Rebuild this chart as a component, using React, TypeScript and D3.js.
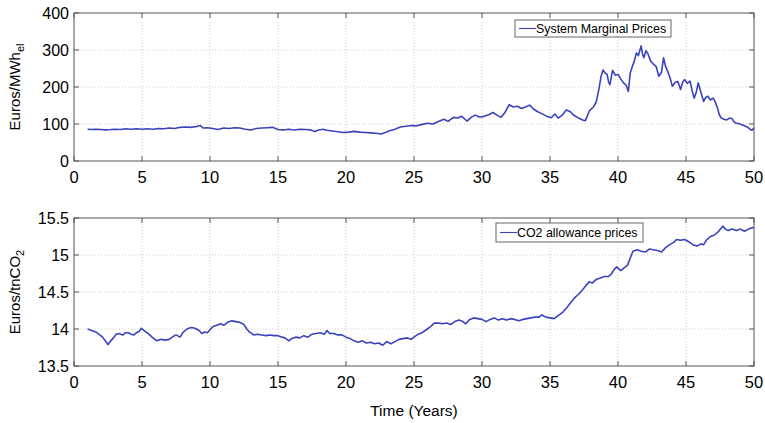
import React, { useRef, useEffect } from "react";
import * as d3 from "d3";

// system marginal prices (Euros/MWh_el)
const smpYears = [
  1.0, 1.3, 1.6, 2.0, 2.3, 2.7, 3.0, 3.4, 3.8, 4.2, 4.6, 5.0, 5.4, 5.8, 6.2, 6.6, 7.0, 7.4, 7.8, 8.2,
  8.6, 9.0, 9.3, 9.5, 9.8, 10.2, 10.6, 11.0, 11.4, 11.8, 12.2, 12.6, 13.0, 13.4, 13.8, 14.2, 14.6, 15.0,
  15.4, 15.8, 16.2, 16.6, 17.0, 17.4, 17.7, 18.0, 18.3, 18.6, 19.0, 19.4, 19.8, 20.2, 20.6, 21.0, 21.4,
  21.8, 22.2, 22.6, 22.9, 23.2, 23.6, 24.0, 24.4, 24.8, 25.2, 25.6, 26.0, 26.4, 26.8, 27.2, 27.5, 27.9,
  28.2, 28.5, 28.9, 29.2, 29.5, 29.8, 30.1, 30.5, 30.8, 31.1, 31.4, 31.7, 32.0, 32.3, 32.6, 32.9, 33.2,
  33.5, 33.8, 34.1, 34.4, 34.8, 35.1, 35.35, 35.6, 35.9, 36.2, 36.5, 36.7, 37.1, 37.4, 37.6, 37.9, 38.2,
  38.4, 38.6, 38.75, 38.9, 39.05, 39.2, 39.3, 39.4, 39.6, 39.8, 40.0, 40.2, 40.4, 40.6, 40.76, 40.9,
  41.05, 41.2, 41.35, 41.5, 41.7, 41.8, 41.9, 42.05, 42.2, 42.4, 42.6, 42.8, 43.0, 43.2, 43.35, 43.5,
  43.7, 43.85, 44.0, 44.2, 44.4, 44.6, 44.75, 44.9, 45.1, 45.3, 45.45, 45.6, 45.75, 45.9, 46.1, 46.3,
  46.45, 46.6, 46.8, 47.0, 47.15, 47.3, 47.45, 47.6, 47.8, 48.0, 48.2, 48.4, 48.55, 48.7, 48.9, 49.1,
  49.3, 49.5, 49.7, 49.85, 50.0,
];
const smpValues = [
  86, 85, 86, 85, 84, 85, 86, 85, 87, 86, 87, 86, 87, 86, 88, 87, 89, 88, 91, 92,
  91, 93, 96, 89, 90, 88, 85, 89, 88, 90, 89, 86, 84, 88, 89, 90, 91, 85,
  84, 86, 84, 86, 85, 84, 80, 84, 86, 83, 81, 79, 77, 78, 80, 78, 77,
  76, 75, 73, 77, 82, 86, 92, 94, 96, 95, 99, 102, 100, 107, 113, 107, 118,
  116, 121, 108, 118, 124, 119, 120, 125, 131, 124, 118, 132, 152, 146, 148, 142, 146,
  151, 140, 133, 128, 120, 117, 127, 116, 124, 138, 133, 125, 116, 111, 109, 136, 146,
  160, 195, 228, 246, 238, 234, 215, 206, 245, 232, 234, 222, 211, 205, 188, 238,
  255, 270, 292, 285, 311, 290, 279, 298, 290, 270, 262, 256, 229, 240, 279, 255,
  238, 222, 202, 212, 215, 193, 213, 220, 210, 216, 190, 170, 185, 211, 185, 161,
  172, 175, 165, 170, 160, 145, 125, 116, 113, 111, 116, 114, 105, 102, 101, 98,
  95, 92, 86, 83, 90,
];

// CO2 allowance prices (Euros/tnCO2)
const co2Years = [
  1.0, 1.3, 1.6, 1.9, 2.1, 2.3, 2.5, 2.7, 2.9, 3.1, 3.3, 3.6, 3.8, 4.0, 4.2, 4.4, 4.6, 4.8, 4.95, 5.2,
  5.5, 5.8, 6.1, 6.4, 6.7, 7.0, 7.3, 7.5, 7.8, 8.0, 8.3, 8.6, 8.9, 9.2, 9.4, 9.6, 9.8, 10.0, 10.2,
  10.5, 10.8, 11.0, 11.3, 11.6, 11.9, 12.2, 12.5, 12.7, 12.9, 13.2, 13.5, 13.8, 14.1, 14.4, 14.7, 15.0,
  15.3, 15.5, 15.8, 16.0, 16.3, 16.6, 16.9, 17.2, 17.5, 17.8, 18.1, 18.4, 18.6, 18.8, 19.1, 19.4, 19.7,
  20.0, 20.3, 20.6, 20.9, 21.2, 21.5, 21.8, 22.1, 22.4, 22.7, 23.0, 23.3, 23.6, 23.9, 24.2, 24.5, 24.8,
  25.0, 25.3, 25.6, 25.9, 26.2, 26.5, 26.8, 27.1, 27.4, 27.7, 28.0, 28.3, 28.6, 28.8, 29.1, 29.4, 29.7,
  30.0, 30.3, 30.6, 30.9, 31.2, 31.5, 31.8, 32.1, 32.4, 32.7, 33.0, 33.3, 33.6, 33.9, 34.2, 34.4, 34.7,
  35.0, 35.3, 35.6, 35.9, 36.2, 36.5, 36.8, 37.1, 37.4, 37.7, 37.9, 38.1, 38.4, 38.7, 39.0, 39.3, 39.5,
  39.7, 39.9, 40.2, 40.4, 40.7, 40.9, 41.1, 41.4, 41.7, 42.0, 42.3, 42.6, 42.9, 43.2, 43.5, 43.8, 44.1,
  44.3, 44.6, 44.9, 45.2, 45.5, 45.8, 46.1, 46.3, 46.5, 46.8, 47.1, 47.4, 47.7, 47.9, 48.1, 48.4, 48.7,
  49.0, 49.3, 49.6, 49.9, 50.0,
];
const co2Values = [
  14.0, 13.98, 13.96, 13.92, 13.89, 13.84, 13.79, 13.84, 13.88, 13.93, 13.94, 13.92, 13.95, 13.95, 13.93, 13.92, 13.95, 13.97, 14.01, 13.97,
  13.93, 13.88, 13.84, 13.86, 13.85, 13.86, 13.9, 13.92, 13.89, 13.95, 14.0, 14.02, 14.01, 13.98, 13.94, 13.96, 13.95, 13.99, 14.03,
  14.05, 14.07, 14.05, 14.09, 14.11, 14.1, 14.09, 14.06, 14.0, 13.96, 13.92, 13.93, 13.92, 13.91, 13.92, 13.91, 13.91,
  13.89, 13.88, 13.84, 13.87, 13.89, 13.88, 13.91, 13.89, 13.93, 13.94, 13.95, 13.93, 13.98, 13.94, 13.94, 13.92, 13.92,
  13.89, 13.87, 13.84, 13.82, 13.84, 13.81, 13.82, 13.8, 13.81, 13.78, 13.83, 13.8, 13.83, 13.86, 13.87, 13.88, 13.86,
  13.89, 13.93, 13.95, 13.99, 14.03, 14.08, 14.08, 14.07, 14.08, 14.06, 14.1, 14.12, 14.1, 14.07, 14.13, 14.15, 14.14,
  14.13, 14.1, 14.13, 14.15, 14.12, 14.14, 14.12, 14.14, 14.13, 14.11, 14.13, 14.14, 14.15, 14.16, 14.16, 14.19, 14.16,
  14.15, 14.14, 14.18, 14.22, 14.28, 14.35, 14.42, 14.47, 14.53, 14.6, 14.64, 14.62, 14.67, 14.69, 14.71, 14.71, 14.74,
  14.8, 14.84, 14.79, 14.82, 14.86, 14.96, 15.05, 15.07, 15.05, 15.04, 15.08, 15.07, 15.06, 15.04, 15.1, 15.14, 15.17,
  15.21, 15.2, 15.21, 15.18, 15.14, 15.12, 15.15, 15.14, 15.2, 15.25, 15.27, 15.32, 15.39, 15.35, 15.33, 15.35, 15.33,
  15.35, 15.32, 15.35, 15.37, 15.36,
];

const xTicks = [0, 5, 10, 15, 20, 25, 30, 35, 40, 45, 50];
const smpTicks = [0, 100, 200, 300, 400];
const co2Ticks = [13.5, 14, 14.5, 15, 15.5];

const LINE = "#3a42bd";
const FONT = "'Liberation Sans', Arial, sans-serif";

const App = () => {
  const ref = useRef(null);

  useEffect(() => {
    if (!ref.current) return;
    const svg = d3.select(ref.current);
    svg.selectAll("*").remove();

    const left = 74;
    const right = 754;
    const x = d3.scaleLinear().domain([0, 50]).range([left, right]);

    function panel(top, bottom, domain, ticks, xs, ys, legendLabel, legendBox, yLabel, yFmt) {
      const y = d3.scaleLinear().domain(domain).range([bottom, top]);
      const g = svg.append("g");

      g.append("rect")
        .attr("x", left).attr("y", top)
        .attr("width", right - left).attr("height", bottom - top)
        .attr("fill", "white");

      // dotted grid
      g.selectAll(".vgrid").data(xTicks.slice(1, -1)).join("line")
        .attr("x1", (d) => x(d)).attr("x2", (d) => x(d))
        .attr("y1", top).attr("y2", bottom)
        .attr("stroke", "#c4c4c4").attr("stroke-width", 0.8)
        .attr("stroke-dasharray", "1,2");
      g.selectAll(".hgrid").data(ticks.slice(1, -1)).join("line")
        .attr("x1", left).attr("x2", right)
        .attr("y1", (d) => y(d)).attr("y2", (d) => y(d))
        .attr("stroke", "#c4c4c4").attr("stroke-width", 0.8)
        .attr("stroke-dasharray", "1,2");

      // series
      const pts = xs.map((d, i) => [d, ys[i]]);
      const line = d3.line().x((d) => x(d[0])).y((d) => y(d[1]));
      g.append("path")
        .attr("d", line(pts))
        .attr("fill", "none")
        .attr("stroke", LINE)
        .attr("stroke-width", 1.6)
        .attr("stroke-linejoin", "round");

      // box
      g.append("rect")
        .attr("x", left).attr("y", top)
        .attr("width", right - left).attr("height", bottom - top)
        .attr("fill", "none").attr("stroke", "#555").attr("stroke-width", 1);

      // inward ticks on all sides
      const tl = 5;
      xTicks.forEach((t) => {
        g.append("line").attr("x1", x(t)).attr("x2", x(t)).attr("y1", bottom).attr("y2", bottom - tl)
          .attr("stroke", "#555");
        g.append("line").attr("x1", x(t)).attr("x2", x(t)).attr("y1", top).attr("y2", top + tl)
          .attr("stroke", "#555");
      });
      ticks.forEach((t) => {
        g.append("line").attr("x1", left).attr("x2", left + tl).attr("y1", y(t)).attr("y2", y(t))
          .attr("stroke", "#555");
        g.append("line").attr("x1", right).attr("x2", right - tl).attr("y1", y(t)).attr("y2", y(t))
          .attr("stroke", "#555");
      });

      // tick labels
      g.selectAll(".xl").data(xTicks).join("text")
        .attr("x", (d) => x(d)).attr("y", bottom + 22)
        .attr("text-anchor", "middle")
        .attr("font-family", FONT).attr("font-size", 16.5).attr("fill", "#000")
        .text((d) => d);
      g.selectAll(".yl").data(ticks).join("text")
        .attr("x", left - 5).attr("y", (d) => y(d) + 6)
        .attr("text-anchor", "end")
        .attr("font-family", FONT).attr("font-size", 16).attr("fill", "#000")
        .text(yFmt);

      // y label
      const lab = g.append("text")
        .attr("transform", `translate(${yLabel.x},${(top + bottom) / 2}) rotate(-90)`)
        .attr("text-anchor", "middle")
        .attr("font-family", FONT).attr("font-size", 15).attr("fill", "#000");
      lab.append("tspan").text(yLabel.main);
      lab.append("tspan").attr("font-size", 11).attr("dy", 4).text(yLabel.sub);

      // legend
      g.append("rect")
        .attr("x", legendBox.x).attr("y", legendBox.y)
        .attr("width", legendBox.w).attr("height", legendBox.h)
        .attr("fill", "white").attr("stroke", "#666").attr("stroke-width", 1);
      const ly = legendBox.y + legendBox.h / 2;
      g.append("line")
        .attr("x1", legendBox.x + 4).attr("x2", legendBox.x + 21)
        .attr("y1", ly).attr("y2", ly)
        .attr("stroke", LINE).attr("stroke-width", 1.1);
      g.append("text")
        .attr("x", legendBox.x + 21).attr("y", ly + 4.5)
        .attr("font-family", FONT).attr("font-size", 12.4).attr("fill", "#000")
        .text(legendLabel);
    }

    panel(13, 161, [0, 400], smpTicks, smpYears, smpValues, "System Marginal Prices",
      { x: 515, y: 20, w: 156, h: 17 }, { x: 20, main: "Euros/MWh", sub: "el" }, (d) => d);
    panel(218, 366, [13.5, 15.5], co2Ticks, co2Years, co2Values, "CO2 allowance prices",
      { x: 496, y: 223, w: 147, h: 19 }, { x: 20, main: "Euros/tnCO", sub: "2" }, (d) => d);

    svg.append("text")
      .attr("x", 414).attr("y", 416)
      .attr("text-anchor", "middle")
      .attr("font-family", FONT).attr("font-size", 15.5).attr("fill", "#000")
      .text("Time (Years)");
  }, []);

  return (
    <div style={{ position: "absolute", left: 0, top: 0 }}>
      <svg ref={ref} width={765} height={423} style={{ display: "block", background: "white" }} />
    </div>
  );
};

export default App;
